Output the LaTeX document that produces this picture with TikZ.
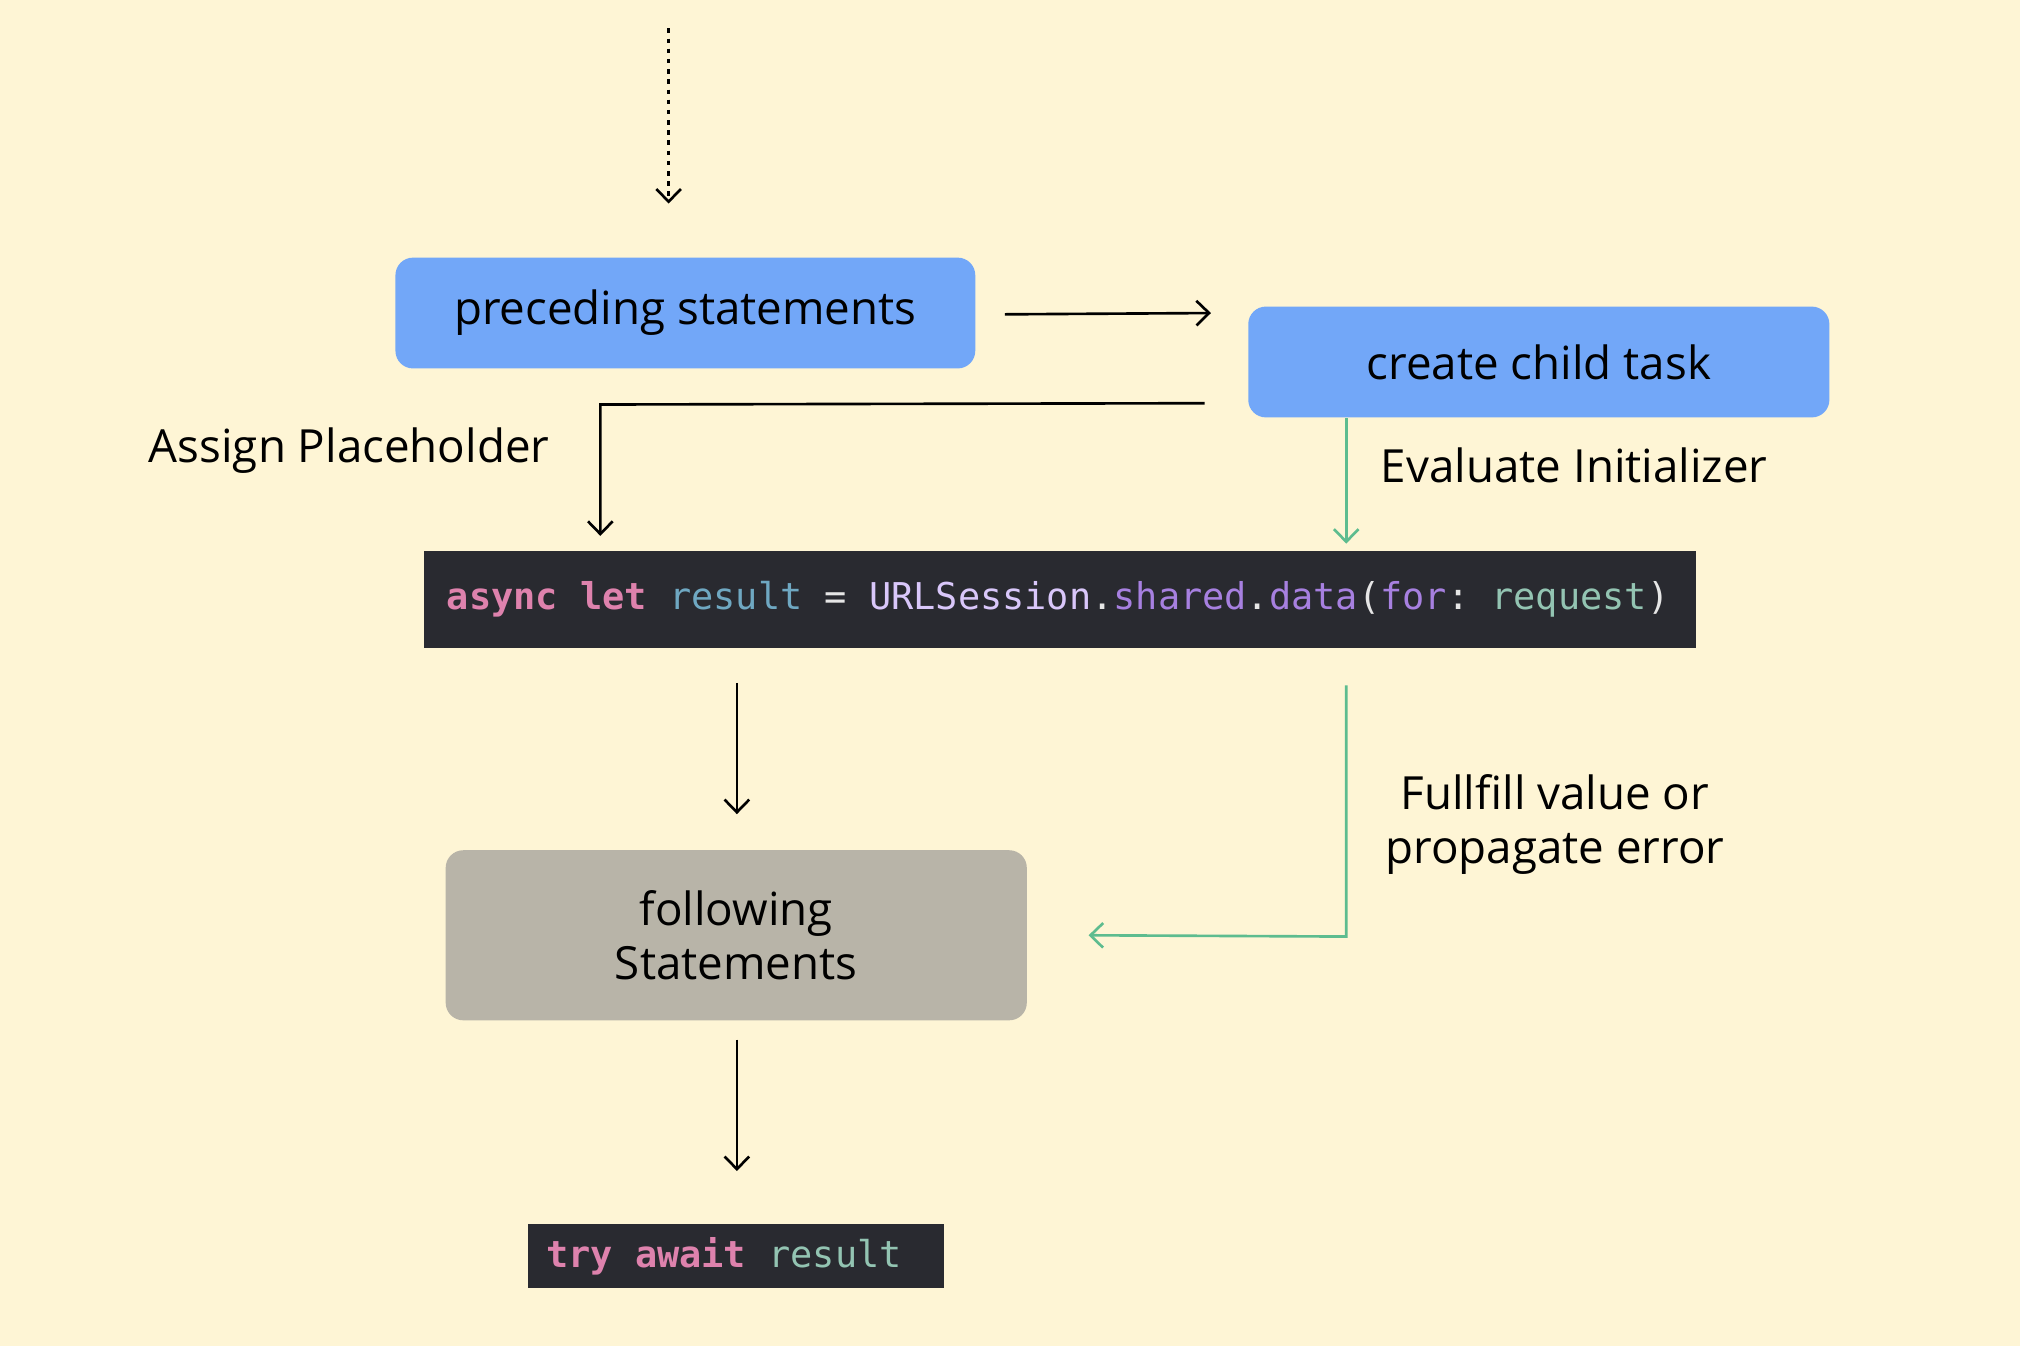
\documentclass[tikz,border=0pt]{standalone}
\usepackage{fontspec}
\setmainfont{Open Sans}
\setmonofont{DejaVu Sans Mono}
\usetikzlibrary{arrows.meta}
\definecolor{bgc}{HTML}{FEF5D5}
\definecolor{bluec}{HTML}{72A7F8}
\definecolor{grayc}{HTML}{B8B4A8}
\definecolor{codec}{HTML}{292A30}
\definecolor{greenc}{HTML}{5DBC8F}
\definecolor{kwc}{HTML}{DE82AD}
\definecolor{varc}{HTML}{6FA8C2}
\definecolor{typec}{HTML}{D9C7FA}
\definecolor{memc}{HTML}{A780E0}
\definecolor{argc}{HTML}{93C4B2}
\definecolor{plainc}{HTML}{E6E6E6}
\newcommand\msp{\hbox to 0.602em{}}
\begin{document}
\begin{tikzpicture}[x=0.012883cm,y=-0.012883cm,
  box/.style={draw=none,rounded corners=5pt,inner sep=0pt,align=center,font=\fontsize{13}{17}\selectfont},
  codebox/.style={fill=codec,draw=none,inner ysep=0pt,align=left,font=\ttfamily\fontsize{10.5}{12}\selectfont},
  lbl/.style={font=\fontsize{13}{17}\selectfont,align=center,inner sep=0pt},
  arr/.style={line width=0.75pt,-{Straight Barb[length=3.6pt,width=7pt,line width=0.75pt]}},
  garr/.style={arr,draw=greenc}]
\fill[bgc] (0,0) rectangle (1568,1045);
\useasboundingbox (0,0) rectangle (1568,1045);

\node[box,fill=bluec,minimum width={450*0.3665pt},minimum height={86*0.3665pt}] (prec) at (532,243) {preceding statements};
\node[box,fill=bluec,minimum width={451*0.3665pt},minimum height={86*0.3665pt}] (child) at (1194.5,281) {create child task};
\node[codebox,inner xsep={18*0.3665pt},text width={951*0.3665pt},minimum height={75*0.3665pt}] (code) at (822.5,465.5)
 {\textbf{\color{kwc}async\msp let}\msp\color{varc}result\msp\color{plainc}=\msp\color{typec}URLSession\color{plainc}.\color{memc}shared\color{plainc}.\color{memc}data\color{plainc}(\color{memc}for\color{plainc}:\msp\color{argc}request\color{plainc})};
\node[box,fill=grayc,minimum width={451*0.3665pt},minimum height={132*0.3665pt},font=\fontsize{13}{15.5}\selectfont] (follow) at (571.5,726) {following\\Statements};
\node[codebox,inner xsep={14*0.3665pt},text width={295*0.3665pt},minimum height={50*0.3665pt}] (try) at (571.5,975)
 {\textbf{\color{kwc}try\msp await}\msp\color{argc}result};

\node[lbl] (assign) at (271,350) {Assign Placeholder};
\node[lbl] (evalt) at (1222,361) {Evaluate Initializer};
\node[lbl,font=\fontsize{13}{15.5}\selectfont] (fulfil) at (1207,640) {Fullfill value or\\propagate error};

\coordinate (top) at (519,22);
\coordinate (topend) at (519,158);
\draw[arr,dash pattern=on 1.3pt off 1.6pt] (top) -- (topend);

\coordinate (p1) at (780,244);
\coordinate (p2) at (940,243);
\draw[arr] (p1) -- (p2);

\coordinate (a1) at (935,313);
\coordinate (a2) at (466,314);
\coordinate (a3) at (466,416);
\draw[arr] (a1) -- (a2) -- (a3);

\coordinate (e2) at (1045,422);
\draw[garr] (child.south -| e2) -- (e2);

\coordinate (c1) at (572,530);
\coordinate (c2) at (572,632);
\draw[arr] (c1) -- (c2);

\coordinate (g1) at (1045,532);
\coordinate (g2) at (1045,727);
\coordinate (g3) at (845,726);
\draw[garr] (g1) -- (g2) -- (g3);

\coordinate (f1) at (572,807);
\coordinate (f2) at (572,909);
\draw[arr] (f1) -- (f2);
\end{tikzpicture}
\end{document}
